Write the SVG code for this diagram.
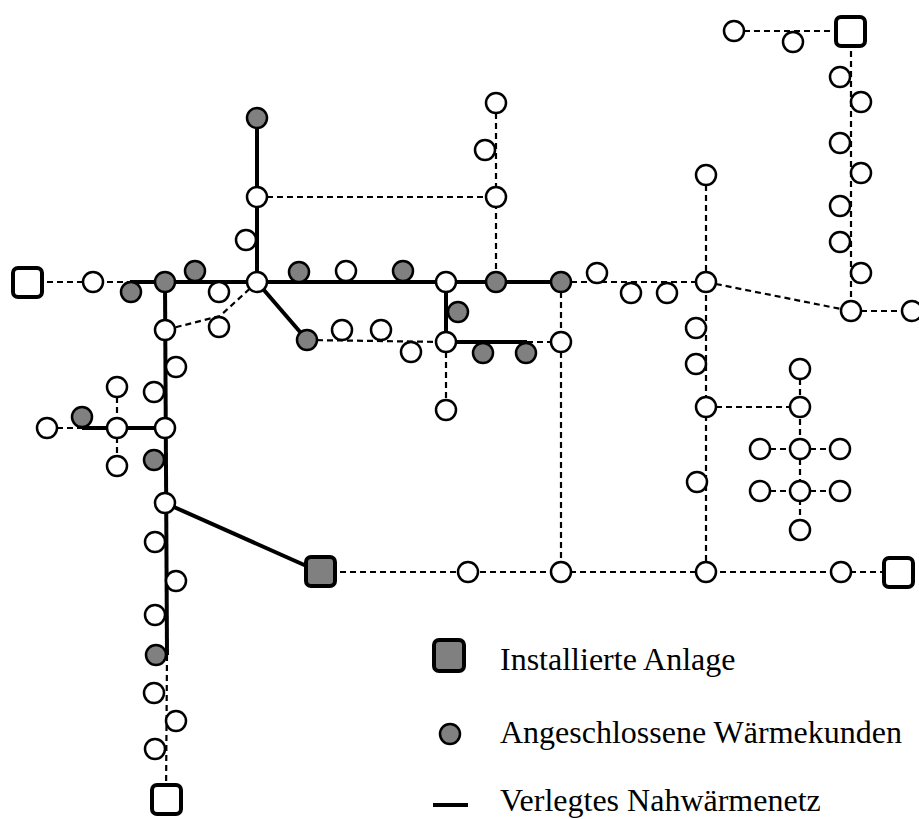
<svg xmlns="http://www.w3.org/2000/svg" width="919" height="819" viewBox="0 0 919 819">
<style>
.bg{fill:#ffffff}
.s{fill:none;stroke:#000;stroke-width:4;stroke-linecap:butt;stroke-linejoin:round}
.d{fill:none;stroke:#000;stroke-width:2.2;stroke-dasharray:6 4}
.w{fill:#ffffff;stroke:#000;stroke-width:2.5}
.g{fill:#808080;stroke:#000;stroke-width:2.5}
.sq{fill:#ffffff;stroke:#000;stroke-width:4}
.sqg{fill:#808080;stroke:#000;stroke-width:4}
.t{font-family:"Liberation Serif","Times New Roman",serif;font-size:32px;fill:#000}
</style>
<rect class="bg" x="0" y="0" width="919" height="819"/>
<g id="connectors">
<path class="d" d="M27,282 H130"/>
<path class="d" d="M257,282 L220,316 L165,330"/>
<path class="d" d="M257,197 H496"/>
<path class="d" d="M496,103 V282"/>
<path class="d" d="M307,340 L446,342"/>
<path class="d" d="M527,342 H561"/>
<path class="d" d="M446,342 V410"/>
<path class="d" d="M561,282 H706"/>
<path class="d" d="M561,282 V572"/>
<path class="d" d="M706,175 V572"/>
<path class="d" d="M706,282 L851,311"/>
<path class="d" d="M851,31 V311"/>
<path class="d" d="M734,31 H851"/>
<path class="d" d="M851,311 H912"/>
<path class="d" d="M706,407 H800"/>
<path class="d" d="M800,369 V530"/>
<path class="d" d="M760,449 H840"/>
<path class="d" d="M760,491 H840"/>
<path class="d" d="M320,572 H898"/>
<path class="d" d="M47,428 H82"/>
<path class="d" d="M117,387 V466"/>
<path class="d" d="M167,655 L166,799"/>
<path class="s" d="M130,282 H561"/>
<path class="s" d="M257,118 V282"/>
<path class="s" d="M257,282 L307,340"/>
<path class="s" d="M446,282 V342 H527"/>
<path class="s" d="M165,282 L167,655"/>
<path class="s" d="M82,428 H165"/>
<path class="s" d="M165,503 L320,572"/>
</g>
<g id="anlagen">
<g id="sq-left"><rect class="sq" x="13" y="268" width="29" height="29" rx="5"/></g>
<g id="sq-top"><rect class="sq" x="836" y="17" width="29" height="29" rx="5"/></g>
<g id="sq-right"><rect class="sq" x="884" y="558" width="29" height="29" rx="5"/></g>
<g id="sq-bottom"><rect class="sq" x="152" y="785" width="29" height="29" rx="5"/></g>
<g id="sq-installed"><rect class="sqg" x="306" y="557" width="29" height="29" rx="5"/></g>
</g>
<g id="nodes">
<g id="n1"><circle class="w" cx="93" cy="282" r="10"/></g>
<g id="n2"><circle class="g" cx="131" cy="292" r="10"/></g>
<g id="n3"><circle class="g" cx="165" cy="282" r="10"/></g>
<g id="n4"><circle class="g" cx="195" cy="271" r="10"/></g>
<g id="n5"><circle class="w" cx="219" cy="292" r="10"/></g>
<g id="n6"><circle class="w" cx="257" cy="282" r="10"/></g>
<g id="n7"><circle class="g" cx="257" cy="118" r="10"/></g>
<g id="n8"><circle class="w" cx="257" cy="197" r="10"/></g>
<g id="n9"><circle class="w" cx="246" cy="240" r="10"/></g>
<g id="n10"><circle class="w" cx="165" cy="330" r="10"/></g>
<g id="n11"><circle class="w" cx="219" cy="327" r="10"/></g>
<g id="n12"><circle class="g" cx="299" cy="272" r="10"/></g>
<g id="n13"><circle class="w" cx="346" cy="271" r="10"/></g>
<g id="n14"><circle class="g" cx="403" cy="271" r="10"/></g>
<g id="n15"><circle class="w" cx="446" cy="282" r="10"/></g>
<g id="n16"><circle class="g" cx="496" cy="282" r="10"/></g>
<g id="n17"><circle class="g" cx="561" cy="282" r="10"/></g>
<g id="n18"><circle class="w" cx="496" cy="103" r="10"/></g>
<g id="n19"><circle class="w" cx="485" cy="150" r="10"/></g>
<g id="n20"><circle class="w" cx="496" cy="197" r="10"/></g>
<g id="n21"><circle class="g" cx="458" cy="312" r="10"/></g>
<g id="n22"><circle class="w" cx="446" cy="342" r="10"/></g>
<g id="n23"><circle class="g" cx="483" cy="353" r="10"/></g>
<g id="n24"><circle class="g" cx="526" cy="353" r="10"/></g>
<g id="n25"><circle class="w" cx="561" cy="342" r="10"/></g>
<g id="n26"><circle class="g" cx="307" cy="340" r="10"/></g>
<g id="n27"><circle class="w" cx="342" cy="330" r="10"/></g>
<g id="n28"><circle class="w" cx="381" cy="330" r="10"/></g>
<g id="n29"><circle class="w" cx="411" cy="352" r="10"/></g>
<g id="n30"><circle class="w" cx="446" cy="410" r="10"/></g>
<g id="n31"><circle class="w" cx="597" cy="273" r="10"/></g>
<g id="n32"><circle class="w" cx="631" cy="293" r="10"/></g>
<g id="n33"><circle class="w" cx="667" cy="293" r="10"/></g>
<g id="n34"><circle class="w" cx="706" cy="282" r="10"/></g>
<g id="n35"><circle class="w" cx="706" cy="175" r="10"/></g>
<g id="n36"><circle class="w" cx="696" cy="328" r="10"/></g>
<g id="n37"><circle class="w" cx="696" cy="364" r="10"/></g>
<g id="n38"><circle class="w" cx="706" cy="407" r="10"/></g>
<g id="n39"><circle class="w" cx="697" cy="482" r="10"/></g>
<g id="n40"><circle class="w" cx="706" cy="572" r="10"/></g>
<g id="n41"><circle class="w" cx="800" cy="369" r="10"/></g>
<g id="n42"><circle class="w" cx="800" cy="407" r="10"/></g>
<g id="n43"><circle class="w" cx="760" cy="449" r="10"/></g>
<g id="n44"><circle class="w" cx="800" cy="449" r="10"/></g>
<g id="n45"><circle class="w" cx="840" cy="449" r="10"/></g>
<g id="n46"><circle class="w" cx="760" cy="491" r="10"/></g>
<g id="n47"><circle class="w" cx="800" cy="491" r="10"/></g>
<g id="n48"><circle class="w" cx="840" cy="491" r="10"/></g>
<g id="n49"><circle class="w" cx="800" cy="530" r="10"/></g>
<g id="n50"><circle class="w" cx="841" cy="572" r="10"/></g>
<g id="n51"><circle class="w" cx="468" cy="572" r="10"/></g>
<g id="n52"><circle class="w" cx="561" cy="572" r="10"/></g>
<g id="n53"><circle class="w" cx="734" cy="31" r="10"/></g>
<g id="n54"><circle class="w" cx="793" cy="42" r="10"/></g>
<g id="n55"><circle class="w" cx="840" cy="77" r="10"/></g>
<g id="n56"><circle class="w" cx="861" cy="102" r="10"/></g>
<g id="n57"><circle class="w" cx="840" cy="143" r="10"/></g>
<g id="n58"><circle class="w" cx="861" cy="173" r="10"/></g>
<g id="n59"><circle class="w" cx="840" cy="206" r="10"/></g>
<g id="n60"><circle class="w" cx="840" cy="242" r="10"/></g>
<g id="n61"><circle class="w" cx="861" cy="273" r="10"/></g>
<g id="n62"><circle class="w" cx="851" cy="311" r="10"/></g>
<g id="n63"><circle class="w" cx="912" cy="311" r="10"/></g>
<g id="n64"><circle class="w" cx="176" cy="367" r="10"/></g>
<g id="n65"><circle class="w" cx="154" cy="392" r="10"/></g>
<g id="n66"><circle class="w" cx="165" cy="428" r="10"/></g>
<g id="n67"><circle class="w" cx="117" cy="387" r="10"/></g>
<g id="n68"><circle class="w" cx="117" cy="428" r="10"/></g>
<g id="n69"><circle class="w" cx="117" cy="466" r="10"/></g>
<g id="n70"><circle class="g" cx="82" cy="417" r="10"/></g>
<g id="n71"><circle class="w" cx="47" cy="428" r="10"/></g>
<g id="n72"><circle class="g" cx="154" cy="460" r="10"/></g>
<g id="n73"><circle class="w" cx="165" cy="503" r="10"/></g>
<g id="n74"><circle class="w" cx="155" cy="542" r="10"/></g>
<g id="n75"><circle class="w" cx="176" cy="581" r="10"/></g>
<g id="n76"><circle class="w" cx="155" cy="615" r="10"/></g>
<g id="n77"><circle class="g" cx="156" cy="655" r="10"/></g>
<g id="n78"><circle class="w" cx="154" cy="693" r="10"/></g>
<g id="n79"><circle class="w" cx="176" cy="721" r="10"/></g>
<g id="n80"><circle class="w" cx="155" cy="749" r="10"/></g>
</g>
<g id="legend">
<g id="legend-anlage">
<rect class="sqg" x="434" y="640" width="30" height="31" rx="5"/>
<text class="t" x="500" y="670">Installierte Anlage</text>
</g>
<g id="legend-kunden">
<circle class="g" cx="450" cy="734" r="10"/>
<text class="t" x="500" y="743">Angeschlossene Wärmekunden</text>
</g>
<g id="legend-netz">
<line class="s" x1="433" y1="805" x2="468" y2="805"/>
<text class="t" x="500" y="811">Verlegtes Nahwärmenetz</text>
</g>
</g>
</svg>
